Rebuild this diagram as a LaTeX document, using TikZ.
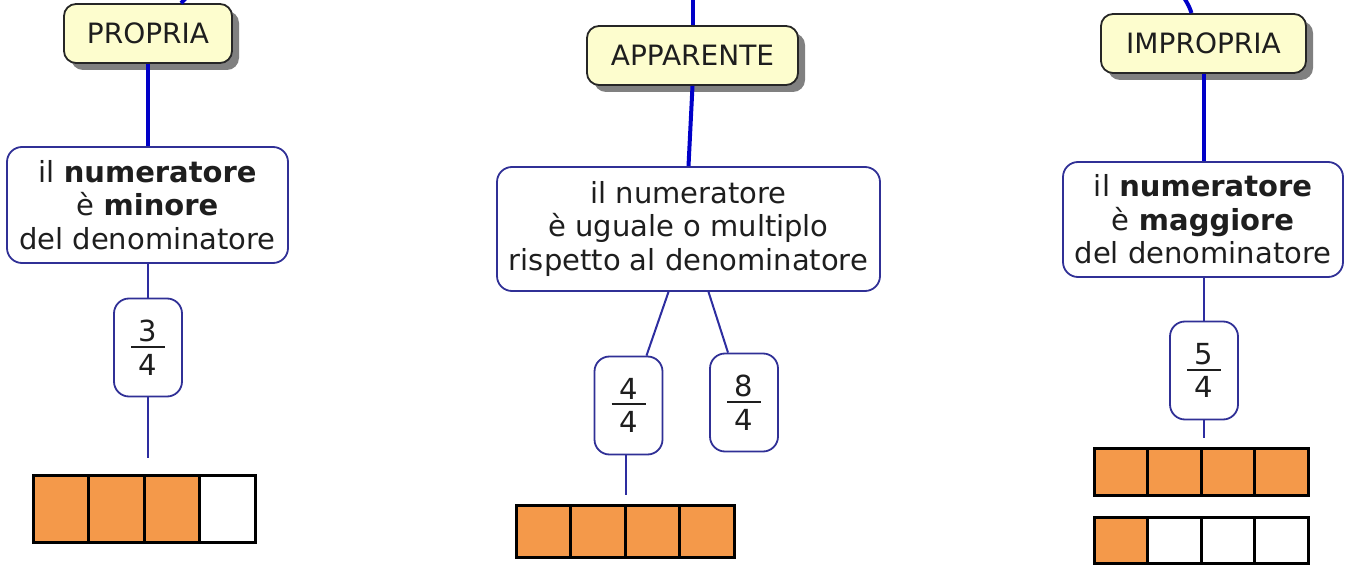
\documentclass[tikz,border=0pt]{standalone}
\usepackage{fontspec}
\setmainfont{DejaVu Sans}
\usetikzlibrary{shadows}

\definecolor{titlefill}{RGB}{253,253,206}
\definecolor{shadowc}{RGB}{128,128,128}
\definecolor{linkblue}{RGB}{0,0,200}
\definecolor{thinblue}{RGB}{45,45,160}
\definecolor{boxblue}{RGB}{48,48,150}
\definecolor{cellorange}{RGB}{244,153,74}
\definecolor{ink}{RGB}{30,30,30}

% stacked fraction: numerator, rule, denominator
\newcommand\stackfrac[2]{\vbox{\hbox to 34pt{\hss#1\hss}\kern4pt\hrule height 2pt\kern6pt\hbox to 34pt{\hss#2\hss}}}

\tikzset{
  txt/.style={font=\fontsize{28pt}{33pt}\selectfont, text=ink},
  bigtxt/.style={font=\fontsize{29pt}{33.5pt}\selectfont, text=ink},
  titlebox/.style={txt, draw=black!85, line width=1.8pt, fill=titlefill,
    rounded corners=12pt, inner sep=0pt, align=center,
    drop shadow={shadow xshift=7pt, shadow yshift=-7pt, fill=shadowc, opacity=1}},
  infobox/.style={bigtxt, draw=boxblue, line width=1.8pt, fill=white,
    rounded corners=15pt, inner sep=0pt, align=center},
  fracbox/.style={bigtxt, draw=boxblue, line width=1.8pt, fill=white,
    rounded corners=15pt, inner sep=0pt, minimum width=68pt, minimum height=98pt},
  thicklink/.style={draw=linkblue, line width=4pt},
  thinlink/.style={draw=thinblue, line width=2pt},
  cellline/.style={draw=black, line width=3pt},
}

\begin{document}
\begin{tikzpicture}[x=1pt, y=-1pt]
\useasboundingbox (0,0) rectangle (1345,569);

% ---- proper fraction ----
\node[titlebox, minimum width=168pt, minimum height=59pt] (prop) at (148,33.5) {PROPRIA};
\node[infobox, minimum width=281pt, minimum height=116pt] (propdef) at (147.5,205)
  {il \textbf{numeratore}\\ è \textbf{minore}\\ del denominatore};
\node[fracbox] (f34) at (148,347.5) {\stackfrac{3}{4}};
\coordinate (proptop) at (188,-4);
\coordinate (propend) at (148,458);
\draw[thicklink] (proptop) -- ([xshift=33pt]prop.north);
\draw[thicklink] (prop.south) -- (propdef.north -| prop.south);
\draw[thinlink] (propdef.south -| f34.north) -- (f34.north);
\draw[thinlink] (f34.south) -- (propend);

% ---- apparent fraction ----
\node[titlebox, minimum width=211pt, minimum height=59pt] (app) at (692.5,55.5) {APPARENTE};
\node[infobox, minimum width=383pt, minimum height=124pt] (appdef) at (688.5,229)
  {il numeratore\\ è uguale o multiplo\\ rispetto al denominatore};
\node[fracbox] (f44) at (628.5,405.5) {\stackfrac{4}{4}};
\node[fracbox] (f84) at (744,402.5) {\stackfrac{8}{4}};
\coordinate (apptop) at (692.5,-4);
\coordinate (append) at (626,495);
\draw[thicklink] (apptop) -- (app.north);
\draw[thicklink] (app.south) -- (appdef.north);
\draw[thinlink] ([xshift=-20pt]appdef.south) -- ([xshift=18pt]f44.north);
\draw[thinlink] ([xshift=20pt]appdef.south) -- ([xshift=-16pt]f84.north);
\draw[thinlink] ([xshift=-2.5pt]f44.south) -- (append);

% ---- improper fraction ----
\node[titlebox, minimum width=205pt, minimum height=59pt] (imp) at (1203.5,43.5) {IMPROPRIA};
\node[infobox, minimum width=280pt, minimum height=115pt] (impdef) at (1203,219.5)
  {il \textbf{numeratore}\\ è \textbf{maggiore}\\ del denominatore};
\node[fracbox] (f54) at (1204,370.5) {\stackfrac{5}{4}};
\coordinate (imptop) at (1183,-4);
\coordinate (impend) at (1204,438);
\draw[thicklink] (imptop) .. controls (1189,6) .. ([xshift=-12pt]imp.north);
\draw[thicklink] (imp.south) -- (impdef.north -| imp.south);
\draw[thinlink] (impdef.south -| f54.north) -- (f54.north);
\draw[thinlink] (f54.south) -- (impend);

% ---- bar models ----
% 3/4
\fill[cellorange] (33,475) rectangle (199.5,542);
\draw[cellline] (33,475) rectangle (255,542);
\foreach \k in {1,2,3} \draw[cellline] (33+55.5*\k,475) -- (33+55.5*\k,542);
% 4/4
\fill[cellorange] (516,505) rectangle (734,557);
\draw[cellline] (516,505) rectangle (734,557);
\foreach \k in {1,2,3} \draw[cellline] (516+54.5*\k,505) -- (516+54.5*\k,557);
% 5/4 = one whole plus one quarter
\fill[cellorange] (1094,448) rectangle (1308,495);
\draw[cellline] (1094,448) rectangle (1308,495);
\foreach \k in {1,2,3} \draw[cellline] (1094+53.5*\k,448) -- (1094+53.5*\k,495);
\fill[cellorange] (1094,517) rectangle (1147.5,563);
\draw[cellline] (1094,517) rectangle (1308,563);
\foreach \k in {1,2,3} \draw[cellline] (1094+53.5*\k,517) -- (1094+53.5*\k,563);
\end{tikzpicture}
\end{document}
